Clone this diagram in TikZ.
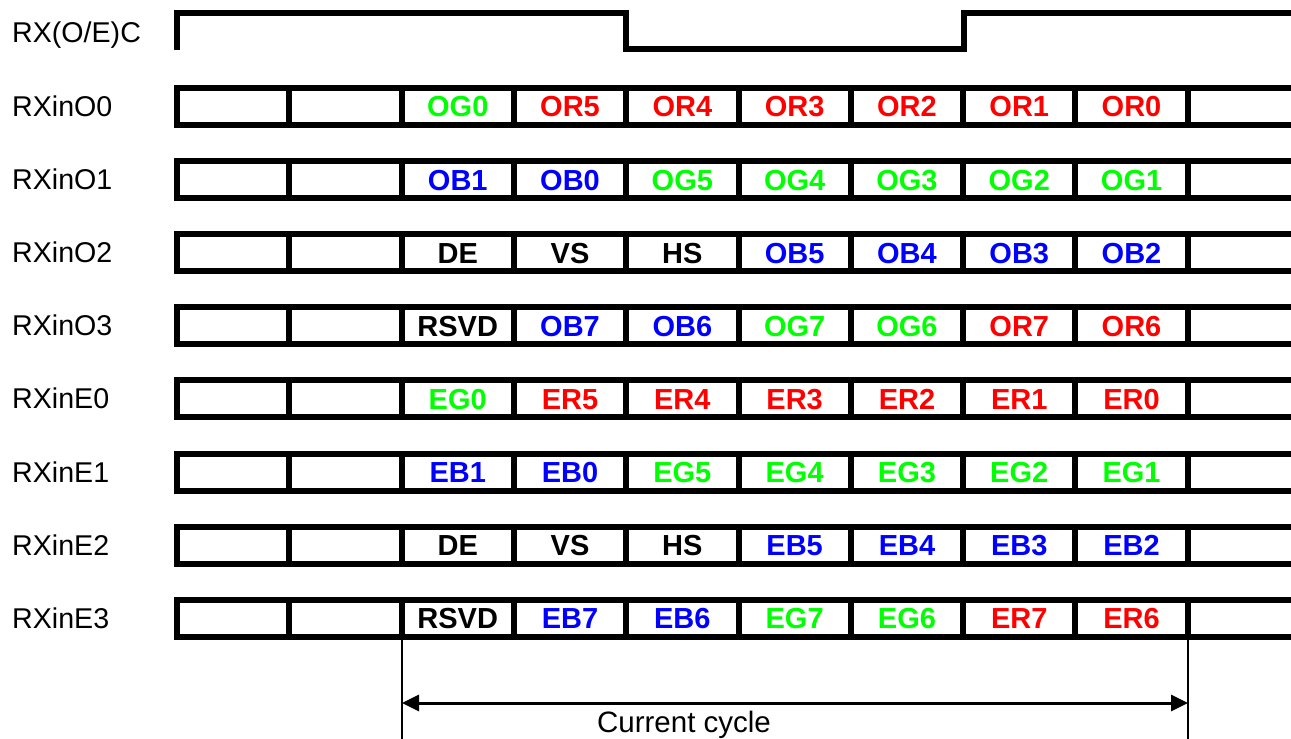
\documentclass[tikz,border=0pt]{standalone}
\usepackage{fontspec}
\setmainfont{Liberation Sans}
\usetikzlibrary{arrows.meta}
\definecolor{sg}{RGB}{0,255,0}
\definecolor{sr}{RGB}{255,0,0}
\definecolor{sb}{RGB}{0,0,255}
\definecolor{sk}{RGB}{0,0,0}
\tikzset{
  lbl/.style={anchor=base west, font=\fontsize{28.6}{30}\selectfont, inner sep=0pt},
  cell/.style={anchor=base, font=\bfseries\fontsize{29}{30}\selectfont, inner sep=0pt},
  wave/.style={line width=6.5pt, line join=miter},
  frame/.style={line width=6pt, line join=miter},
  marker/.style={line width=2.2pt},
  span/.style={line width=3pt, {Triangle[length=17pt,width=16pt]}-{Triangle[length=17pt,width=16pt]}},
}
\newcommand{\tgrow}[3]{%
  \pgfmathsetmacro{\yc}{106.5+73.1*#1}
  \node[lbl] (lab#1) at (12,\yc+10) {#2};
  \draw[frame] (1295,\yc-18.5) -- (177,\yc-18.5) -- (177,\yc+18.5) -- (1295,\yc+18.5);
  \foreach \k in {1,...,9} \draw[frame] (177+112.3*\k,\yc-18.5) -- (177+112.3*\k,\yc+18.5);
  \foreach \c/\t [count=\k from 2] in {#3}
    \node[cell,text=\c] (r#1c\k) at (177+112.3*\k+56.15,\yc+10.4) {\t};
}
\begin{document}
\begin{tikzpicture}[x=1pt,y=-1pt]
\useasboundingbox (0,0) rectangle (1291,739);
% clock
\node[lbl] (lclk) at (12,42) {RX(O/E)C};
\draw[wave] (177,50) -- (177,13) -- (626,13) -- (626,49) -- (964,49) -- (964,13) -- (1297,13);
% rows
\tgrow{0}{RXinO0}{sg/OG0,sr/OR5,sr/OR4,sr/OR3,sr/OR2,sr/OR1,sr/OR0}
\tgrow{1}{RXinO1}{sb/OB1,sb/OB0,sg/OG5,sg/OG4,sg/OG3,sg/OG2,sg/OG1}
\tgrow{2}{RXinO2}{sk/DE,sk/VS,sk/HS,sb/OB5,sb/OB4,sb/OB3,sb/OB2}
\tgrow{3}{RXinO3}{sk/RSVD,sb/OB7,sb/OB6,sg/OG7,sg/OG6,sr/OR7,sr/OR6}
\tgrow{4}{RXinE0}{sg/EG0,sr/ER5,sr/ER4,sr/ER3,sr/ER2,sr/ER1,sr/ER0}
\tgrow{5}{RXinE1}{sb/EB1,sb/EB0,sg/EG5,sg/EG4,sg/EG3,sg/EG2,sg/EG1}
\tgrow{6}{RXinE2}{sk/DE,sk/VS,sk/HS,sb/EB5,sb/EB4,sb/EB3,sb/EB2}
\tgrow{7}{RXinE3}{sk/RSVD,sb/EB7,sb/EB6,sg/EG7,sg/EG6,sr/ER7,sr/ER6}
% current cycle
\coordinate (mlt) at (402,636);
\coordinate (mlb) at (402,741);
\coordinate (mrt) at (1188,636);
\coordinate (mrb) at (1188,741);
\draw[marker] (mlt) -- (mlb);
\draw[marker] (mrt) -- (mrb);
\coordinate (al) at (402,703);
\coordinate (ar) at (1188,703);
\draw[span] (al) -- (ar);
\node[lbl, anchor=base, font=\fontsize{29.5}{30}\selectfont] (cc) at (684,732) {Current cycle};
\end{tikzpicture}
\end{document}
